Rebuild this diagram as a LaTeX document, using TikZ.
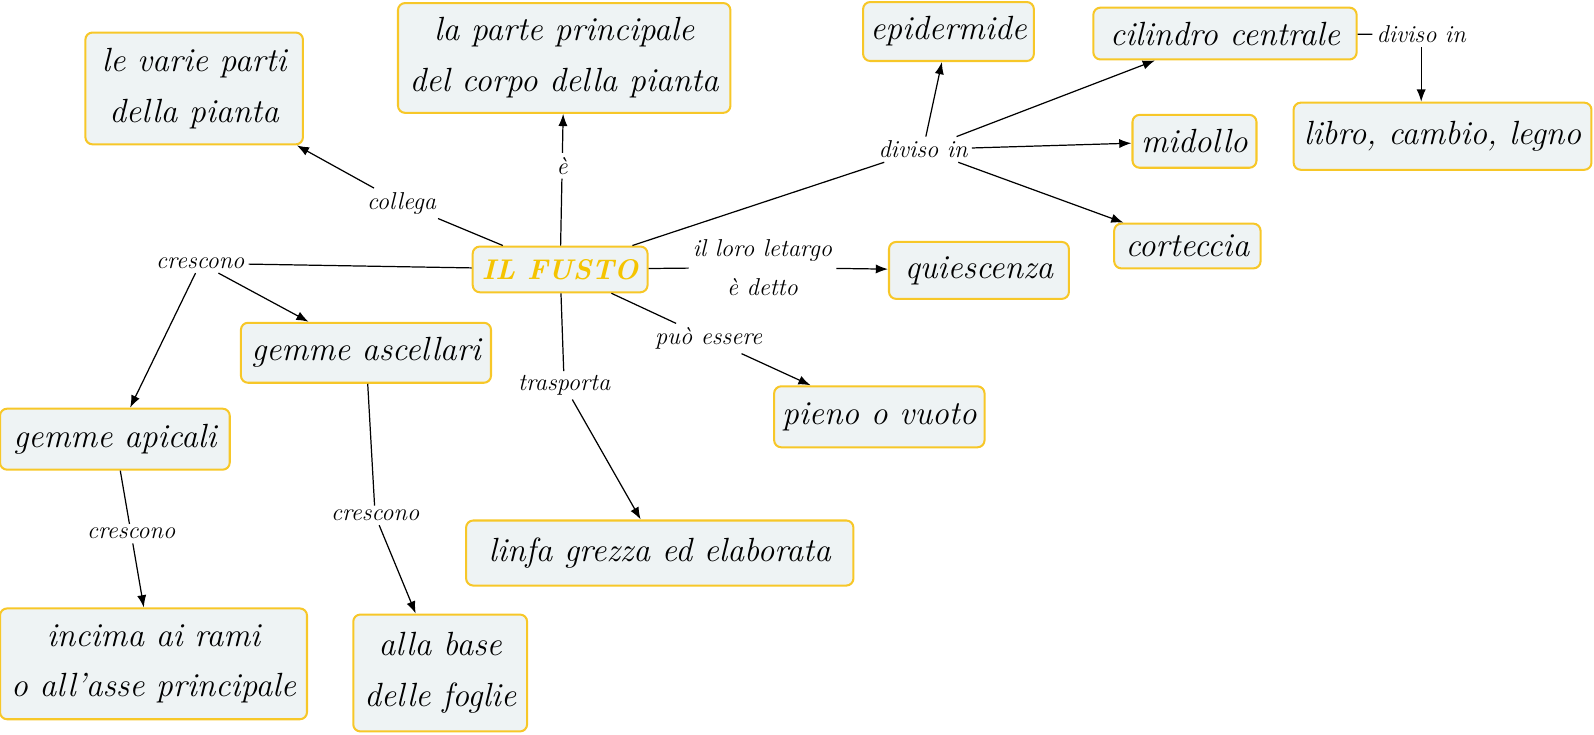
\documentclass[tikz,border=0pt]{standalone}
\usetikzlibrary{arrows.meta}
\definecolor{boxfill}{RGB}{238,243,244}
\definecolor{boxline}{RGB}{247,199,40}
\definecolor{fustotext}{RGB}{245,196,0}
\tikzset{
  box/.style={draw=boxline, fill=boxfill, line width=2pt, rounded corners=7pt, align=center,
    font=\fontsize{33}{50}\selectfont\itshape, inner sep=0pt},
  lbl/.style={align=center, font=\fontsize{24}{38}\selectfont\itshape, inner sep=4pt},
  conn/.style={line width=1.2pt, black},
  arr/.style={conn, -{Latex[length=12pt,width=9pt]}}
}
\begin{document}
\begin{tikzpicture}[x=1pt,y=-1pt]
\useasboundingbox (0,0) rectangle (1568,723);
% boxes
\node[box, minimum width=214, minimum height=110] (varie) at (191,87) {le varie parti\\della pianta};
\node[box, minimum width=327, minimum height=108] (parte) at (555,57) {la parte principale\\del corpo della pianta};
\node[box, minimum width=168, minimum height=58] (epi) at (933,31) {epidermide};
\node[box, minimum width=259, minimum height=51] (cil) at (1205,33) {cilindro centrale};
\node[box, minimum width=293, minimum height=66] (libro) at (1419,134) {libro, cambio, legno};
\node[box, minimum width=122, minimum height=52] (mid) at (1175,139) {midollo};
\node[box, minimum width=144, minimum height=44] (cort) at (1168,242) {corteccia};
\node[box, minimum width=177, minimum height=56] (quie) at (963,266) {quiescenza};
\node[box, minimum width=172, minimum height=45, text=fustotext, font=\fontsize{28}{40}\selectfont\bfseries\itshape] (fusto) at (551,265) {IL FUSTO};
\node[box, minimum width=246, minimum height=59] (asc) at (360,347) {gemme ascellari};
\node[box, minimum width=226, minimum height=60] (api) at (113,432) {gemme apicali};
\node[box, minimum width=207, minimum height=60] (pieno) at (865,410) {pieno o vuoto};
\node[box, minimum width=381, minimum height=64] (linfa) at (649,544) {linfa grezza ed elaborata};
\node[box, minimum width=302, minimum height=109] (incima) at (151,653) {incima ai rami\\o all'asse principale};
\node[box, minimum width=171, minimum height=115] (base) at (433,662) {alla base\\delle foglie};
% labels
\node[lbl] (collega) at (395,200) {collega};
\node[lbl] (e) at (553,163) {è};
\node[lbl] (div1) at (908,147) {diviso in};
\node[lbl] (div2) at (1398,34) {diviso in};
\node[lbl] (cre1) at (197,259) {crescono};
\node[lbl] (letargo) at (750,263) {il loro letargo\\è detto};
\node[lbl] (puo) at (697,333) {può essere};
\node[lbl] (trasp) at (555,379) {trasporta};
\node[lbl] (cre2) at (129,525) {crescono};
\node[lbl] (cre3) at (369,507) {crescono};
% connectors
\draw[conn] (fusto) -- (collega);
\draw[arr] (collega) -- (varie);
\draw[conn] (fusto) -- (e);
\draw[arr] (e) -- (parte);
\draw[conn] (fusto) -- (div1);
\draw[arr] (div1) -- (epi);
\draw[arr] (div1) -- (cil);
\draw[arr] (div1) -- (mid);
\draw[arr] (div1) -- (cort);
\draw[conn] (cil) -- (div2);
\draw[arr] (div2) -- (div2 |- libro.north);
\draw[conn] (fusto) -- (letargo);
\draw[arr] (letargo) -- (quie);
\draw[conn] (fusto) -- (cre1);
\draw[arr] (cre1) -- (asc);
\draw[arr] (cre1) -- (api);
\draw[conn] (fusto) -- (puo);
\draw[arr] (puo) -- (pieno);
\draw[conn] (fusto) -- (trasp);
\draw[arr] (trasp) -- (linfa);
\draw[conn] (api) -- (cre2);
\draw[arr] (cre2) -- (incima);
\draw[conn] (asc) -- (cre3);
\draw[arr] (cre3) -- (base);
\end{tikzpicture}
\end{document}
